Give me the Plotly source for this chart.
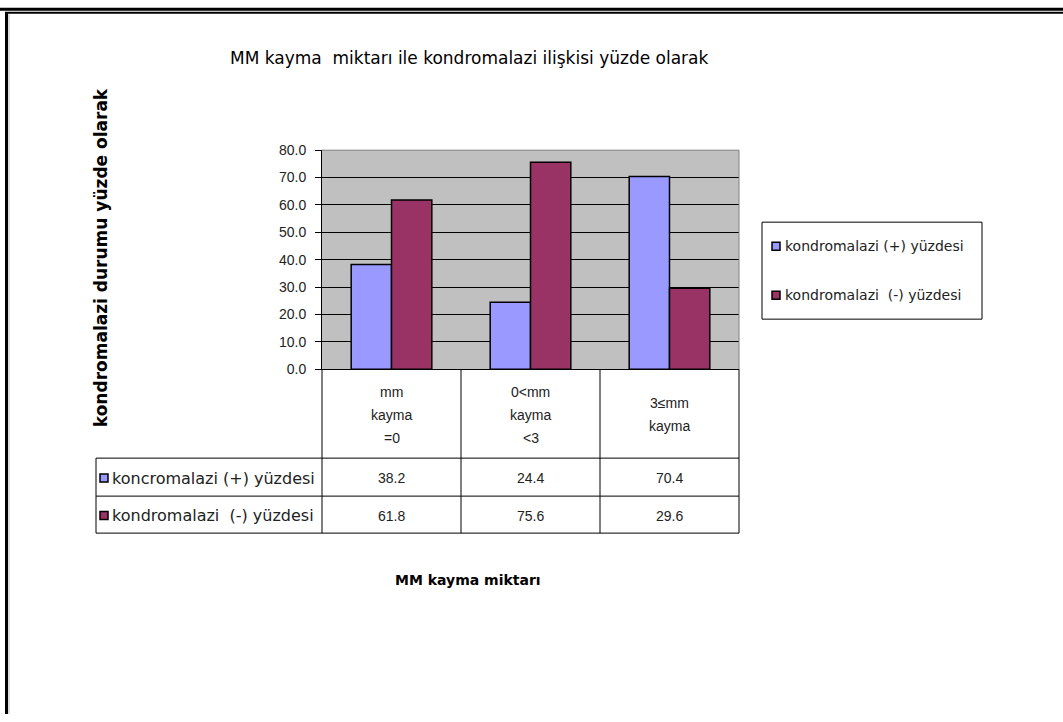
import plotly.graph_objects as go

# ---- data ----
categories = ["mm kayma =0", "0<mm kayma <3", "3≤mm kayma"]
category_lines = [["mm", "kayma", "=0"], ["0&lt;mm", "kayma", "&lt;3"], ["3≤mm", "kayma"]]
positive_pct = [38.2, 24.4, 70.4]
negative_pct = [61.8, 75.6, 29.6]
series_names = ["kondromalazi (+) yüzdesi", "kondromalazi  (-) yüzdesi"]
table_row_names = ["koncromalazi (+) yüzdesi", "kondromalazi  (-) yüzdesi"]
series_colors = ["#9999FF", "#993366"]

W, H = 1063, 722
SANS = "Liberation Sans, Arial, sans-serif"
WIDE = "DejaVu Sans, Verdana, sans-serif"

# vertical page layout calibration
Y_OFF, Y_SCALE = 7.8, 0.978


def px(x):
    return x / W


def py(y):
    return 1 - ((y - Y_OFF) / Y_SCALE) / H


# plot area in pixels
PL, PR, PT, PB = 322, 739, 150, 369

fig = go.Figure()
for name, vals, col in zip(series_names, [positive_pct, negative_pct], series_colors):
    fig.add_trace(go.Bar(
        x=categories, y=vals, name=name,
        marker=dict(color=col, line=dict(color="black", width=1.5)),
        showlegend=False,
    ))

fig.update_layout(
    width=W, height=H,
    margin=dict(l=0, r=0, t=0, b=0),
    paper_bgcolor="white",
    plot_bgcolor="#C0C0C0",
    barmode="group", bargap=0.42, bargroupgap=0,
    font=dict(family=SANS, size=14, color="#222"),
    xaxis=dict(domain=[px(PL), px(PR)], range=[-0.5, 2.5],
               showticklabels=False, showgrid=False, zeroline=False,
               showline=True, linecolor="black", linewidth=1),
    yaxis=dict(domain=[py(PB), py(PT)], range=[0, 80], dtick=10,
               tickformat=".1f", ticks="outside", ticklen=6, tickcolor="black",
               ticklabelstandoff=6,
               showline=True, linecolor="black", linewidth=1,
               gridcolor="black", gridwidth=1, zeroline=False,
               tickfont=dict(family=SANS, size=14, color="#222")),
)

shapes = []
ann = []

# plot area outline (top/right in gray)
shapes.append(dict(type="line", xref="paper", yref="paper",
                   x0=px(PL), x1=px(PR), y0=py(PT), y1=py(PT),
                   line=dict(color="#808080", width=1)))
shapes.append(dict(type="line", xref="paper", yref="paper",
                   x0=px(PR), x1=px(PR), y0=py(PT), y1=py(PB),
                   line=dict(color="#808080", width=1)))

# data table grid
T_LEFT, HDR_BOT, ROW1_BOT, ROW2_BOT = 96, 458, 496, 533
col_edges = [PL, 461, 600, PR]
for xe in col_edges:
    shapes.append(dict(type="line", xref="paper", yref="paper",
                       x0=px(xe), x1=px(xe), y0=py(PB), y1=py(ROW2_BOT),
                       line=dict(color="black", width=1)))
shapes.append(dict(type="line", xref="paper", yref="paper",
                   x0=px(T_LEFT), x1=px(T_LEFT), y0=py(HDR_BOT), y1=py(ROW2_BOT),
                   line=dict(color="black", width=1)))
for ye in [HDR_BOT, ROW1_BOT, ROW2_BOT]:
    shapes.append(dict(type="line", xref="paper", yref="paper",
                       x0=px(T_LEFT), x1=px(PR), y0=py(ye), y1=py(ye),
                       line=dict(color="black", width=1)))

# category header labels, one annotation per line
LINE_STEP = 23
hdr_mid = (PB + HDR_BOT) / 2 + 1
for cat, lines in zip(categories, category_lines):
    n = len(lines)
    for i, t in enumerate(lines):
        yy = hdr_mid + (i - (n - 1) / 2) * LINE_STEP
        ann.append(dict(x=cat, xref="x", y=py(yy), yref="paper",
                        text=t, showarrow=False, xanchor="center", yanchor="middle",
                        font=dict(family=SANS, size=14, color="#222")))

# table rows
row_centers = [(HDR_BOT + ROW1_BOT) / 2 + 1, (ROW1_BOT + ROW2_BOT) / 2 + 1]
for rc, rname, vals, col in zip(row_centers, table_row_names,
                                [positive_pct, negative_pct], series_colors):
    shapes.append(dict(type="rect", xref="paper", yref="paper",
                       x0=px(100), x1=px(108), y0=py(rc - 4), y1=py(rc + 4),
                       fillcolor=col, line=dict(color="black", width=1.5)))
    ann.append(dict(x=px(110), xref="paper", y=py(rc), yref="paper",
                    text=rname, showarrow=False, xanchor="left", yanchor="middle",
                    font=dict(family=WIDE, size=16, color="#222")))
    for cat, v in zip(categories, vals):
        ann.append(dict(x=cat, xref="x", y=py(rc), yref="paper",
                        text=f"{v:.1f}", showarrow=False,
                        xanchor="center", yanchor="middle",
                        font=dict(family=SANS, size=14, color="#222")))

# legend box
LG_L, LG_R, LG_T, LG_B = 762, 982, 222, 319
shapes.append(dict(type="rect", xref="paper", yref="paper",
                   x0=px(LG_L), x1=px(LG_R), y0=py(LG_T), y1=py(LG_B),
                   line=dict(color="black", width=1), fillcolor="white"))
for ly, name, col in zip([246, 295], series_names, series_colors):
    shapes.append(dict(type="rect", xref="paper", yref="paper",
                       x0=px(772), x1=px(780), y0=py(ly - 4), y1=py(ly + 4),
                       fillcolor=col, line=dict(color="black", width=1.5)))
    ann.append(dict(x=px(783), xref="paper", y=py(ly), yref="paper",
                    text=name, showarrow=False, xanchor="left", yanchor="middle",
                    font=dict(family=WIDE, size=14, color="#222")))

# titles
ann.append(dict(x=px(469), y=py(58), xref="paper", yref="paper",
                text="MM kayma  miktarı ile kondromalazi ilişkisi yüzde olarak",
                showarrow=False, xanchor="center", yanchor="middle",
                font=dict(family=WIDE, size=17, color="black")))
ann.append(dict(x=px(468), y=py(580), xref="paper", yref="paper",
                text="<b>MM kayma miktarı</b>", showarrow=False,
                xanchor="center", yanchor="middle",
                font=dict(family=WIDE, size=14, color="black")))
ann.append(dict(x=px(101), y=py(258), xref="paper", yref="paper",
                text="<b>kondromalazi durumu yüzde olarak</b>", showarrow=False,
                textangle=-90, xanchor="center", yanchor="middle",
                font=dict(family=WIDE, size=17, color="black")))

# page frame
shapes.append(dict(type="line", xref="paper", yref="paper",
                   x0=0, x1=1, y0=py(9), y1=py(9),
                   line=dict(color="black", width=3)))
shapes.append(dict(type="line", xref="paper", yref="paper",
                   x0=px(5), x1=1, y0=py(12.5), y1=py(12.5),
                   line=dict(color="black", width=2)))
shapes.append(dict(type="line", xref="paper", yref="paper",
                   x0=px(6.5), x1=px(6.5), y0=py(12), y1=0,
                   line=dict(color="black", width=3)))
shapes.append(dict(type="line", xref="paper", yref="paper",
                   x0=px(9), x1=px(9), y0=py(14), y1=0,
                   line=dict(color="#BBBBBB", width=1)))

fig.update_layout(shapes=shapes, annotations=ann)
fig.write_html("out.html")
